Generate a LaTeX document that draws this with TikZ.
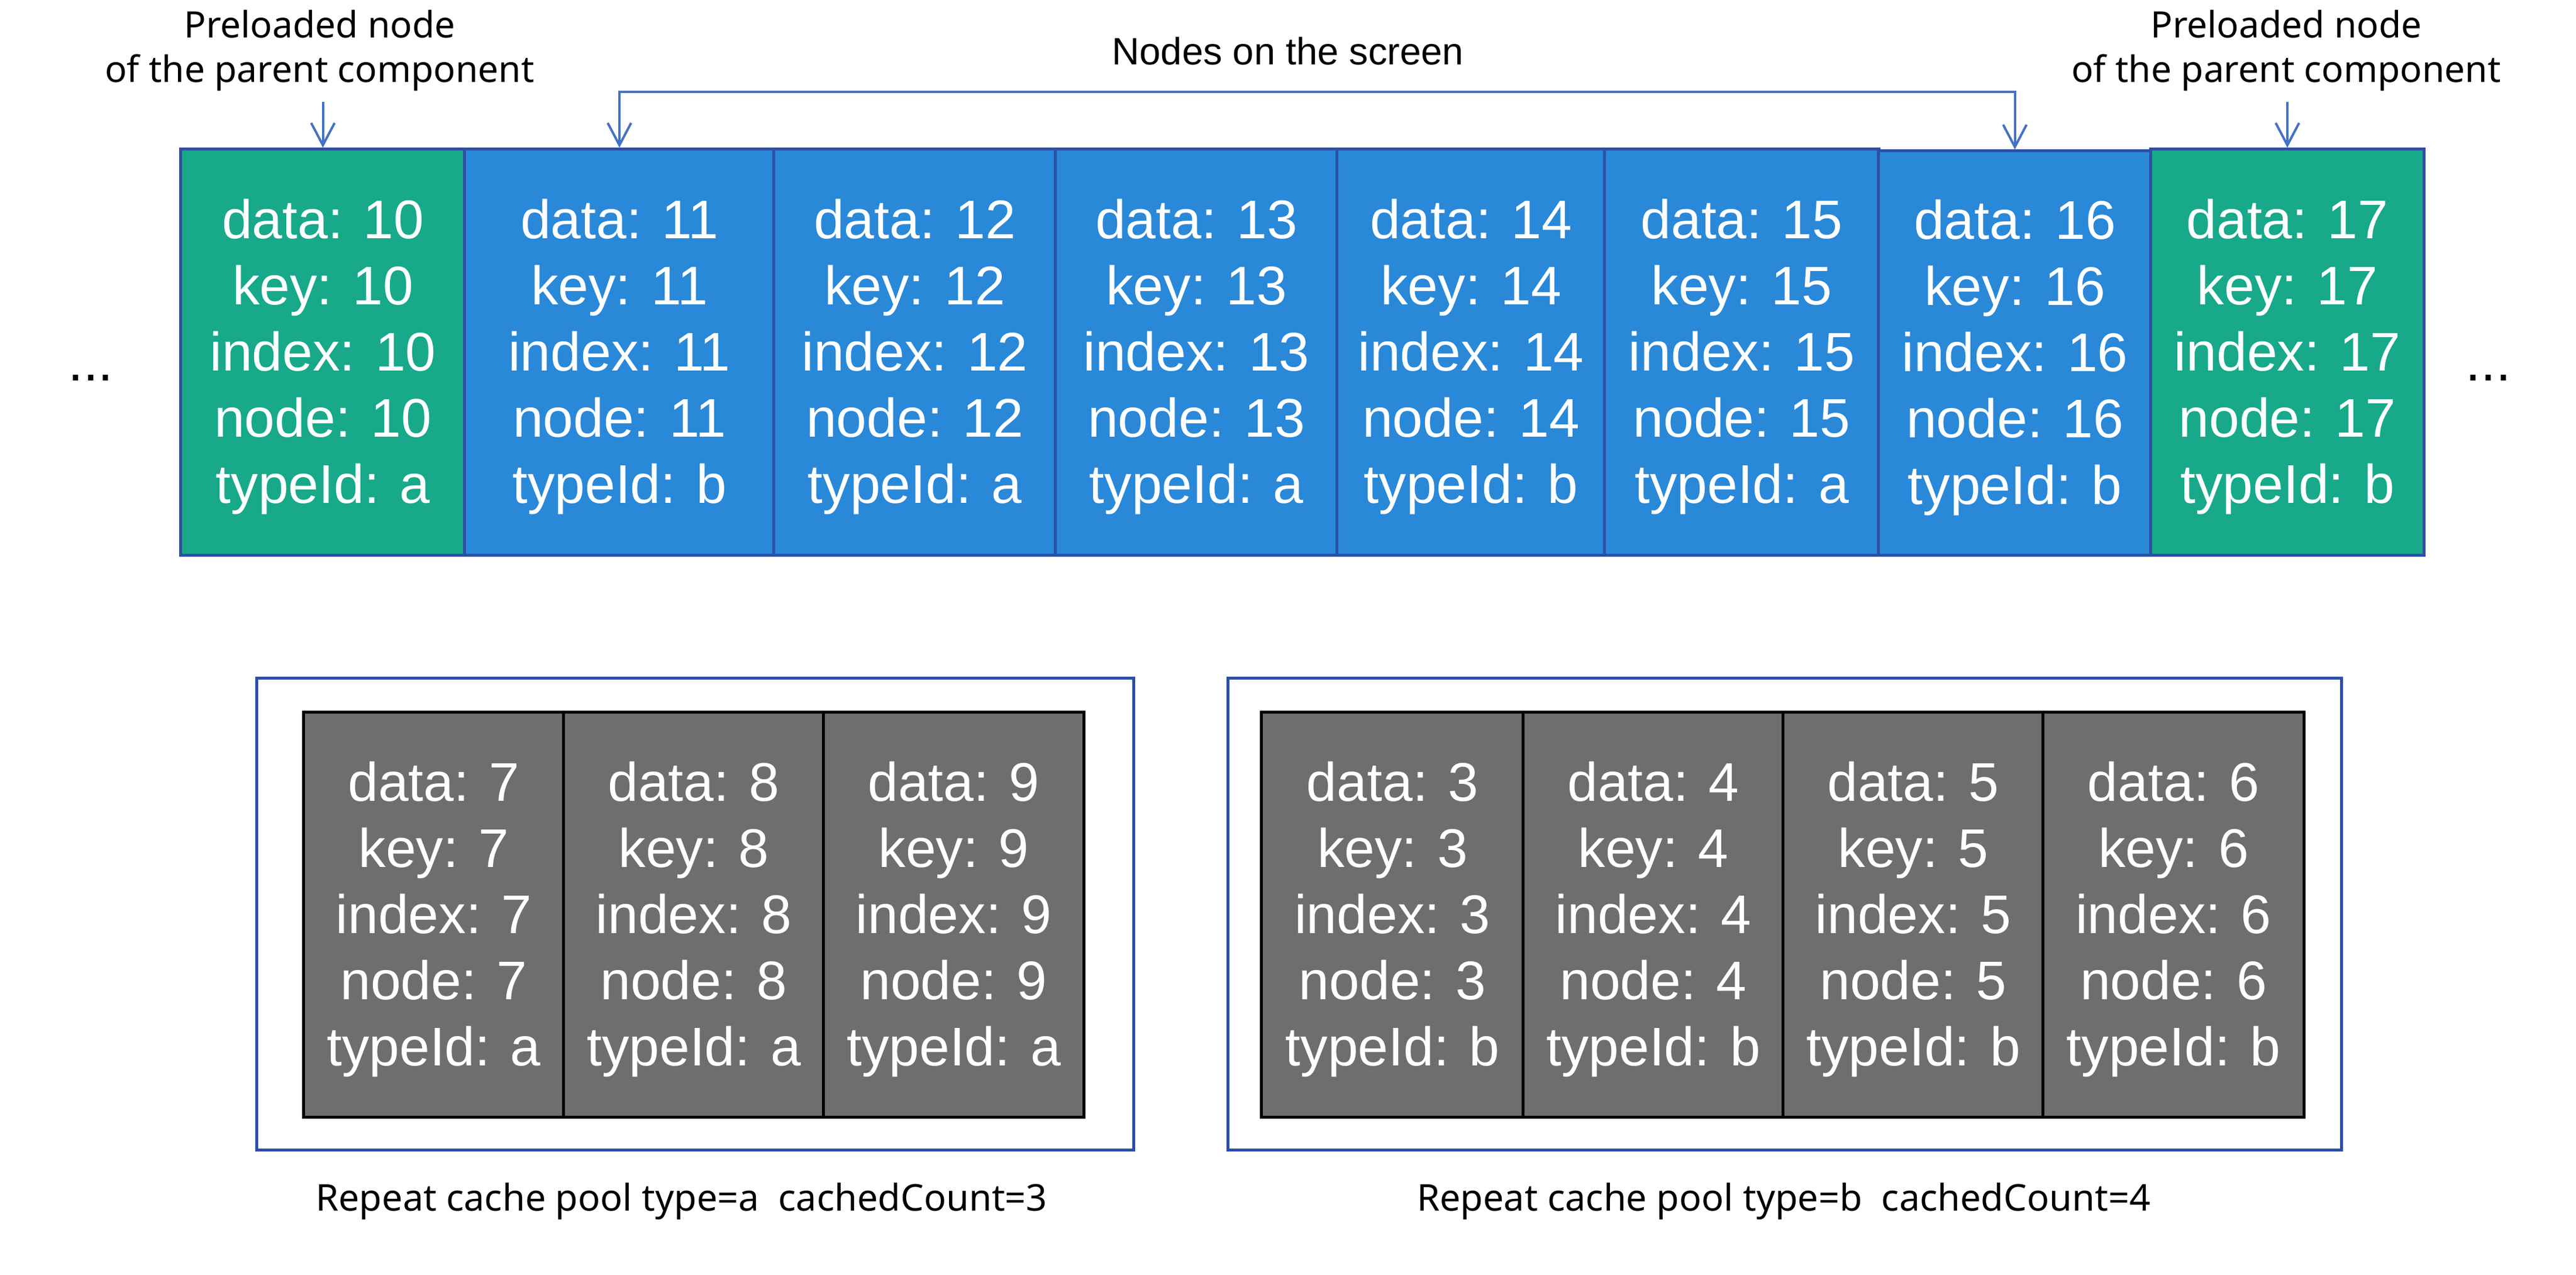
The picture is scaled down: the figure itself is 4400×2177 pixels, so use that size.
\documentclass[tikz,border=0pt]{standalone}
\usepackage{fontspec}
\setmainfont{Liberation Sans}
\newfontfamily\labelfont{Noto Sans}
\usetikzlibrary{arrows.meta}
\definecolor{cellgreen}{HTML}{17A98A}
\definecolor{cellblue}{HTML}{2A88D8}
\definecolor{cellborder}{HTML}{2E4FA5}
\definecolor{cellgray}{HTML}{6E6E6E}
\definecolor{framecol}{HTML}{2C4DA8}
\definecolor{arrowcol}{HTML}{4472C4}
\newcommand{\mycelltext}[2]{\rule{0pt}{0.83cm}data: #1\\key: #1\\index: #1\\node: #1\\typeId: #2}
\begin{document}
\begin{tikzpicture}[x=0.01cm,y=-0.01cm,
  cellfont/.style={font=\fontsize{26.46pt}{32.15pt}\selectfont},
  topcell/.style={cellfont, draw=cellborder, line width=0.05cm, text=white, align=center, inner sep=0pt, minimum height=6.93cm},
  preload/.style={topcell, fill=cellgreen},
  screen/.style={topcell, fill=cellblue},
  poolcell/.style={cellfont, draw=black, line width=0.05cm, fill=cellgray, text=white, align=center, inner sep=0pt, minimum height=6.91cm, minimum width=4.44cm},
  poolframe/.style={draw=framecol, line width=0.05cm, inner sep=0pt, minimum height=8.05cm},
  labeltext/.style={font=\labelfont\fontsize{17.7pt}{21.6pt}\selectfont, align=center, inner sep=0pt, text=black},
  captiontext/.style={font=\labelfont\fontsize{17.9pt}{21.6pt}\selectfont, inner sep=0pt, text=black},
  arr/.style={draw=arrowcol, line width=0.04cm, -{Straight Barb[length=0.38cm, width=0.40cm]}},
  dots/.style={cellfont, inner sep=0pt}
]
\useasboundingbox[fill=white] (0,0) rectangle (4400,2177);

% top row of nodes
\node[preload, minimum width=4.85cm] (c10) at (551.5,601.5) {\mycelltext{10}{a}};
\node[screen, minimum width=5.28cm] (c11) at (1058,601.5) {\mycelltext{11}{b}};
\node[screen, minimum width=4.81cm] (c12) at (1562.5,601.5) {\mycelltext{12}{a}};
\node[screen, minimum width=4.81cm] (c13) at (2043.5,601.5) {\mycelltext{13}{a}};
\node[screen, minimum width=4.57cm] (c14) at (2512.5,601.5) {\mycelltext{14}{b}};
\node[screen, minimum width=4.68cm] (c15) at (2975,601.5) {\mycelltext{15}{a}};
\node[screen, minimum width=4.65cm, minimum height=6.90cm] (c16) at (3441.5,603) {\mycelltext{16}{b}};
\node[preload, minimum width=4.66cm] (c17) at (3907,601.5) {\mycelltext{17}{b}};

\node[dots, anchor=base] (dl) at (155,650) {...};
\node[dots, anchor=base] (dr) at (4250,650) {...};

% labels and arrows
\node[labeltext] (pl) at (546,86) {Preloaded node\\of the parent component};
\node[labeltext] (pr) at (3905,86) {Preloaded node\\of the parent component};
\coordinate (plend) at (551.5,174);
\coordinate (prend) at (3907,174);
\draw[arr] (plend) -- (c10.north);
\draw[arr] (prend) -- (c17.north);

\node[labeltext, anchor=base, font=\fontsize{18.5pt}{22pt}\selectfont] (ns) at (2200,110) {Nodes on the screen};
\coordinate (br) at (1058,157);
\draw[arr, {Straight Barb[length=0.38cm, width=0.40cm]}-{Straight Barb[length=0.38cm, width=0.40cm]}] (c11.north) -- (c11.north |- br) -| (c16.north);

% cache pool a
\node[poolframe, minimum width=14.97cm] (fa) at (1187.5,1561.5) {};
\node[poolcell] (a7) at (741,1562.5) {\mycelltext{7}{a}};
\node[poolcell] (a8) at (1185,1562.5) {\mycelltext{8}{a}};
\node[poolcell] (a9) at (1629,1562.5) {\mycelltext{9}{a}};
\node[captiontext, anchor=base] (capa) at (1164,2068) {Repeat cache pool type=a\ \ cachedCount=3};

% cache pool b
\node[poolframe, minimum width=19.01cm] (fb) at (3048.5,1561.5) {};
\node[poolcell, minimum width=4.47cm] (b3) at (2378.5,1562.5) {\mycelltext{3}{b}};
\node[poolcell] (b4) at (2824,1562.5) {\mycelltext{4}{b}};
\node[poolcell] (b5) at (3268,1562.5) {\mycelltext{5}{b}};
\node[poolcell, minimum width=4.45cm] (b6) at (3712.5,1562.5) {\mycelltext{6}{b}};
\node[captiontext, anchor=base] (capb) at (3046.5,2068) {Repeat cache pool type=b\ \ cachedCount=4};
\end{tikzpicture}
\end{document}
